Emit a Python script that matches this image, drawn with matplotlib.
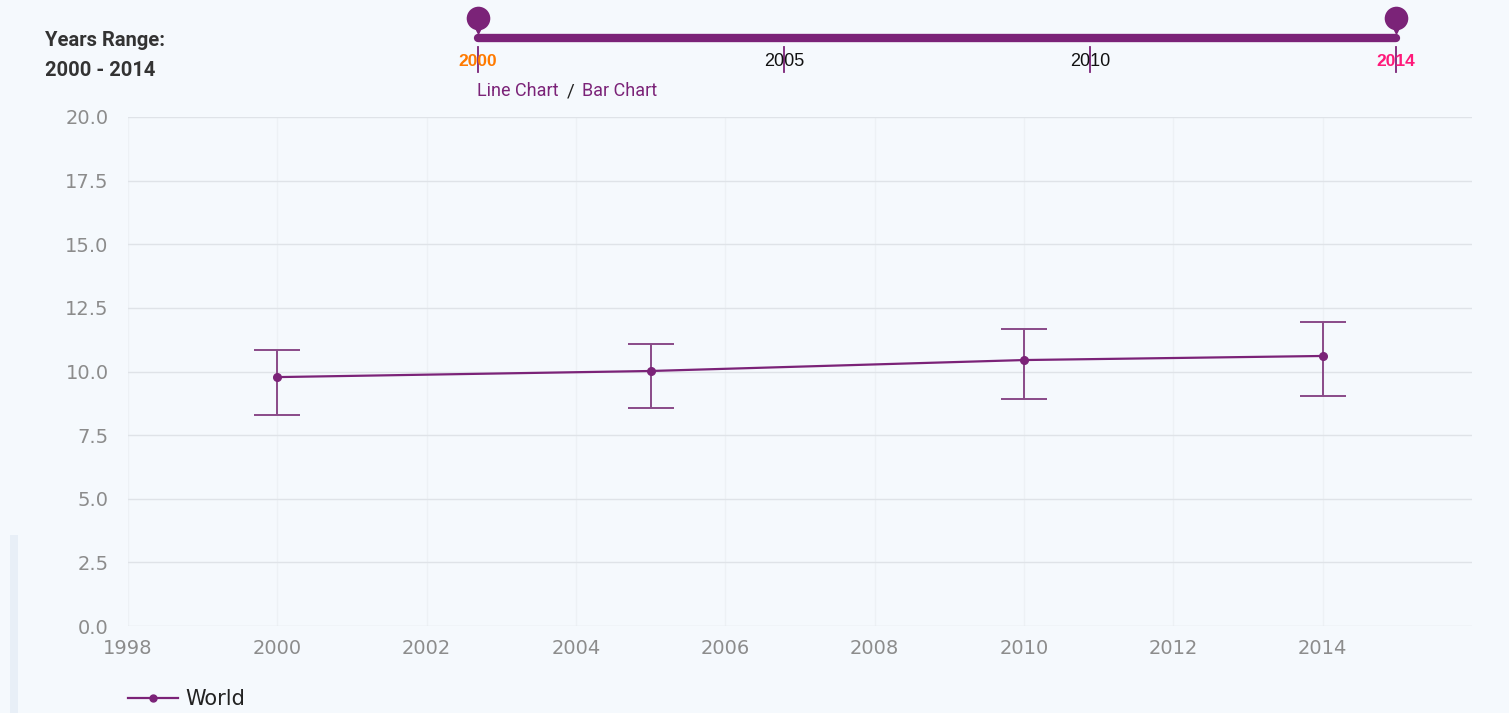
import numpy as np
import matplotlib.pyplot as plt
from matplotlib.lines import Line2D

# world series with lower / upper bounds
years = [2000, 2005, 2010, 2014]
values = [9.78, 10.02, 10.45, 10.61]
lower = [8.29, 8.57, 8.92, 9.04]
upper = [10.86, 11.08, 11.67, 11.94]

slider_years = [2000, 2005, 2010, 2014]
range_start, range_end = 2000, 2014

W, H = 1509, 713
purple = '#7B2378'
bg = '#F5F9FD'

fig = plt.figure(figsize=(W / 100, H / 100), dpi=100, facecolor=bg)

# overlay in pixel units for the header widgets
ov = fig.add_axes([0, 0, 1, 1], zorder=0)
ov.set_xlim(0, W)
ov.set_ylim(H, 0)
ov.axis('off')
ov.add_patch(plt.Rectangle((10, 535), 8, H - 535, color='#E8EFF7', lw=0))

# main chart
ax = fig.add_axes([128 / W, 1 - 626 / H, (1472 - 128) / W, (626 - 117) / H], zorder=1)
ax.set_facecolor(bg)
yerr = [np.array(values) - np.array(lower), np.array(upper) - np.array(values)]
ax.errorbar(years, values, yerr=yerr, color=purple, lw=1.6, marker='o', ms=5.5,
            ecolor='#8A4A88', elinewidth=1.4, capsize=16.5, capthick=1.4, zorder=3)
ax.set_xlim(1998, 2016)
ax.set_ylim(0, 20)
ax.set_xticks(np.arange(1998, 2015, 2))
ax.set_yticks(np.arange(0, 20.1, 2.5))
ax.set_yticklabels([f'{v:.1f}' for v in np.arange(0, 20.1, 2.5)])
ax.grid(axis='y', color='#DFE3E8', lw=1)
for x in np.arange(1998, 2015, 2):
    ax.axvline(x, color='#EDF1F5', lw=1, zorder=0)
for s in ax.spines.values():
    s.set_visible(False)
ax.tick_params(length=0, labelsize=14, labelcolor='#8C8C8C')
ax.tick_params(axis='y', pad=14)
ax.tick_params(axis='x', pad=9)

# year slider
pos = np.linspace(478, 1396, len(slider_years))
ov.plot([pos[0], pos[-1]], [38, 38], color=purple, lw=6, solid_capstyle='round')
for p, yr in zip(pos, slider_years):
    ov.plot([p, p], [47, 72], color=purple, lw=1.3, zorder=3)
    if yr == range_start:
        ov.text(p, 61, str(yr), color='#FF7A00', fontsize=12.5, fontweight='bold',
                ha='center', va='center', family='Liberation Sans')
    elif yr == range_end:
        ov.text(p, 61, str(yr), color='#FF1A7A', fontsize=12.5, fontweight='bold',
                ha='center', va='center', family='Liberation Sans')
    else:
        ov.text(p, 61, str(yr), color='#111111', fontsize=13,
                ha='center', va='center', family='Liberation Sans')
for p in (pos[0], pos[-1]):
    ov.plot(p, 18, marker='o', ms=17, color=purple, mec='none')
    ov.plot(p, 27.5, marker='v', ms=10, color=purple, mec='none')

ov.text(45, 41, 'Years Range:', fontsize=14.5, fontweight='bold', color='#333333',
        family='Roboto', va='center')
ov.text(45, 71, f'{range_start} - {range_end}', fontsize=14.5, fontweight='bold',
        color='#333333', family='Roboto', va='center')
ov.text(477, 91, 'Line Chart', fontsize=13, color=purple, family='Roboto', va='center')
ov.text(567, 91, '/', fontsize=13.5, color='#222222', family='Roboto', va='center')
ov.text(582, 91, 'Bar Chart', fontsize=13, color=purple, family='Roboto', va='center')

# legend
handle = Line2D([], [], color=purple, lw=1.6, marker='o', ms=5)
fig.legend([handle], ['World'], loc='center left', bbox_to_anchor=(128 / W, 1 - 699 / H),
           frameon=False, fontsize=15, handlelength=2.4, handletextpad=0.35,
           borderpad=0, borderaxespad=0, labelcolor='#222222')

fig.savefig('out.png', dpi=100, facecolor=bg)
